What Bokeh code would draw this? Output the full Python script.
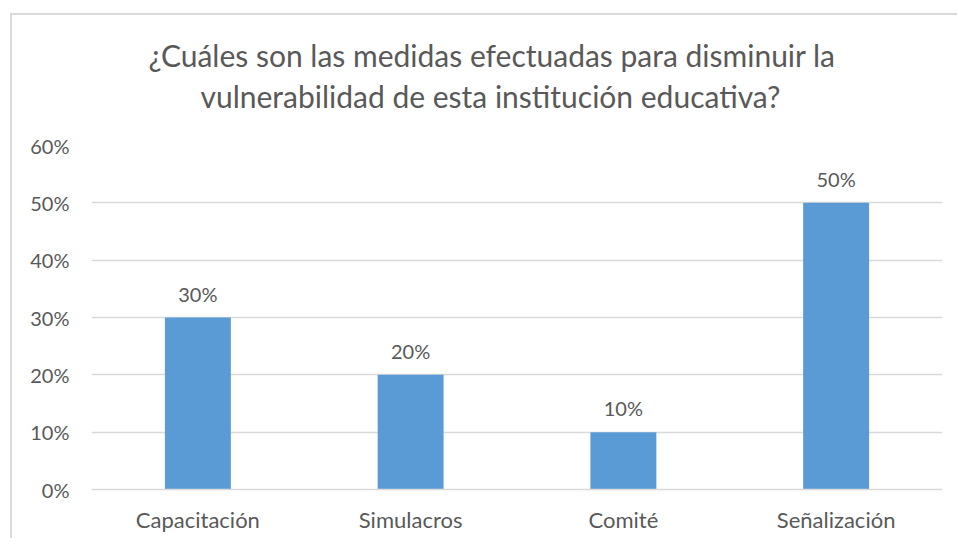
from bokeh.plotting import figure
from bokeh.models import Title, FactorRange, Range1d, NumeralTickFormatter, FixedTicker
from bokeh.core.properties import value
from bokeh.embed import file_html
from bokeh.resources import INLINE

categories = ["Capacitación", "Simulacros", "Comité", "Señalización"]
values = [0.30, 0.20, 0.10, 0.50]
labels = ["30%", "20%", "10%", "50%"]
y_ticks = [0, 0.1, 0.2, 0.3, 0.4, 0.5, 0.6]
title_lines = ["¿Cuáles son las medidas efectuadas para disminuir la",
               "vulnerabilidad de esta institución educativa?"]

FONT = "Lato"
GRAY = "#595959"
GRID = "#d9d9d9"
BAR = "#5b9bd5"

p = figure(x_range=FactorRange(*categories, range_padding=0),
           y_range=Range1d(0, 0.6),
           width=947, height=525,
           output_backend="svg", toolbar_location=None,
           min_border_left=79, min_border_right=17,
           min_border_top=130, min_border_bottom=51)
p.margin = (13, 0, 0, 10)
p.styles = {"border-left": "2px solid #d9d9d9", "border-top": "2px solid #d9d9d9"}
p.title.text = ""
p.title.visible = False

t2 = Title(text=title_lines[1], align="left", offset=109, text_font=FONT, text_font_size="30px",
           text_color=GRAY, text_font_style="normal", standoff=63)
t1 = Title(text=title_lines[0], align="left", offset=57, text_font=FONT, text_font_size="30px",
           text_color=GRAY, text_font_style="normal", standoff=-57)
p.add_layout(t2, "above")
p.add_layout(t1, "above")

p.vbar(x=categories, top=values, width=0.31, color=BAR, line_color=None)
p.text(x=categories, y=values, text=labels, text_align="center", text_baseline="bottom",
       y_offset=-12, text_font=value(FONT), text_font_size="20px", text_color=GRAY)

p.outline_line_color = None
p.background_fill_color = "white"
p.border_fill_color = "white"

p.xgrid.grid_line_color = None
p.ygrid.grid_line_color = GRID
p.ygrid.grid_line_width = 1.5

p.yaxis.ticker = FixedTicker(ticks=y_ticks)
p.yaxis.formatter = NumeralTickFormatter(format="0%")
p.yaxis.axis_line_color = None
p.yaxis.major_tick_line_color = None
p.yaxis.minor_tick_line_color = None
p.yaxis.major_label_text_font = FONT
p.yaxis.major_label_text_font_size = "20px"
p.yaxis.major_label_text_color = GRAY
p.yaxis.major_label_standoff = 16

p.xaxis.axis_line_color = GRID
p.xaxis.axis_line_width = 1.5
p.xaxis.major_tick_line_color = None
p.xaxis.minor_tick_line_color = None
p.xaxis.major_label_text_font = FONT
p.xaxis.major_label_text_font_size = "22px"
p.xaxis.major_label_text_color = GRAY
p.xaxis.major_label_standoff = 10

open("out.html", "w").write(file_html(p, INLINE))
